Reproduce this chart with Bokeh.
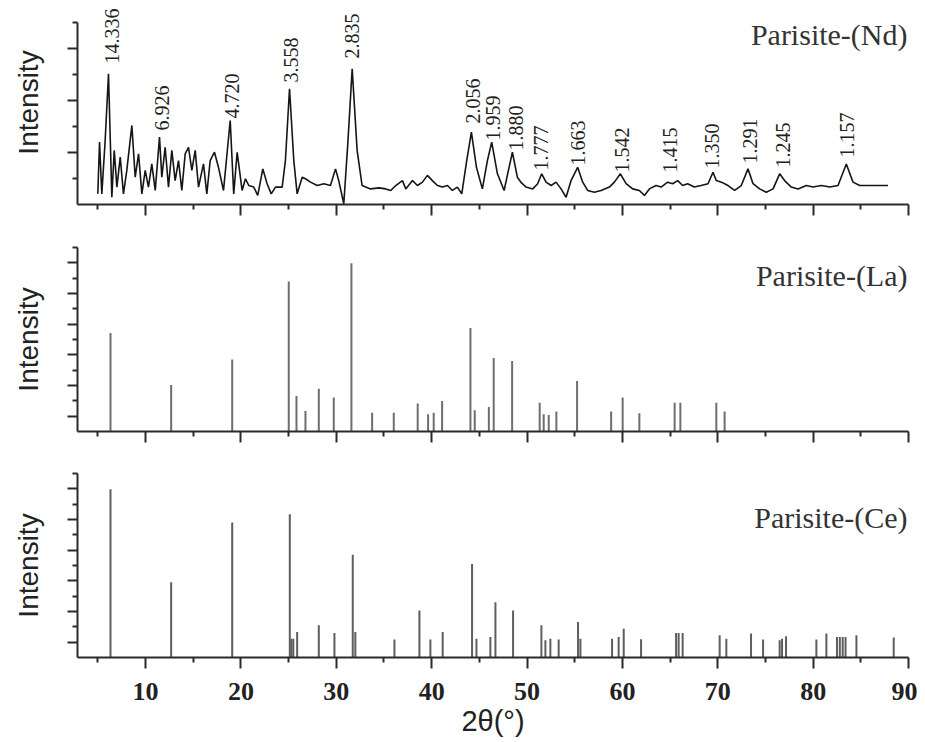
from bokeh.plotting import figure
from bokeh.layouts import column
from bokeh.models import (Range1d, FixedTicker, Label, LabelSet, ColumnDataSource,
                          CustomLabelingPolicy)
from bokeh.embed import file_html
from bokeh.resources import INLINE

# ---------------- data ----------------
nd_two_theta = [5.0, 5.18, 5.42, 5.77, 6.12, 6.47, 6.72, 7.0, 7.35, 7.69, 8.04, 8.57, 8.92, 9.27,
                9.62, 9.97, 10.31, 10.66, 11.02, 11.47, 11.71, 12.06, 12.41, 12.76, 13.11, 13.46,
                13.81, 14.16, 14.51, 14.86, 15.21, 15.56, 16.08, 16.43, 16.78, 17.23, 17.65, 18.18,
                18.88, 19.25, 19.61, 20.13, 20.48, 20.83, 21.35, 21.77, 22.3, 22.75, 23.18, 23.63,
                24.33, 24.67, 25.1, 25.55, 25.9, 26.43, 26.77, 27.3, 28.0, 28.7, 29.39, 29.92,
                30.26, 30.79, 31.21, 31.67, 32.19, 32.71, 33.59, 34.5, 35.19, 35.71, 36.24, 36.94,
                37.29, 37.99, 38.51, 39.04, 39.56, 40.08, 40.61, 41.13, 41.66, 42.18, 42.7, 43.16,
                43.68, 44.17, 44.7, 45.32, 45.85, 46.3, 46.9, 47.6, 48.12, 48.47, 48.99, 49.4,
                49.9, 50.6, 51.12, 51.54, 52.0, 52.53, 53.05, 53.57, 54.1, 54.62, 55.31, 55.84,
                56.36, 57.06, 57.77, 58.64, 59.16, 59.79, 60.39, 61.08, 61.78, 62.31, 62.83, 63.53,
                64.06, 64.75, 65.27, 65.8, 66.32, 66.84, 67.55, 68.25, 68.98, 69.5, 69.85, 70.38,
                71.08, 71.77, 72.47, 73.17, 73.7, 74.39, 75.09, 75.8, 76.49, 77.01, 77.71, 78.42,
                79.29, 79.99, 80.86, 81.73, 82.61, 83.48, 84.18, 84.88, 85.93, 86.97, 87.85]
nd_intensity = [410, 2400, 410, 2460, 5030, 280, 2080, 670, 1820, 410, 1310, 3040, 1050, 1950,
                410, 1310, 670, 1560, 540, 2590, 1050, 2200, 670, 2080, 920, 1690,
                540, 1950, 2200, 1310, 2080, 670, 1560, 410, 1690, 2010, 1430, 540,
                3230, 410, 2010, 540, 990, 730, 670, 350, 1370, 800, 410, 670,
                670, 1690, 4450, 1690, 410, 1050, 990, 860, 730, 800, 730, 1370,
                920, 30, 2330, 5220, 2080, 730, 600, 640, 600, 540, 730, 920,
                600, 920, 730, 860, 1120, 920, 730, 670, 730, 540, 670, 410,
                1690, 2780, 1430, 600, 1690, 2400, 1180, 540, 1430, 2010, 1050, 840,
                670, 600, 800, 1180, 860, 730, 860, 600, 280, 920, 1430, 860,
                540, 470, 540, 670, 860, 1180, 800, 600, 540, 350, 600, 730,
                670, 860, 800, 920, 730, 800, 670, 730, 800, 1240, 920, 860,
                730, 540, 730, 1370, 800, 600, 470, 600, 1180, 920, 670, 600,
                730, 670, 730, 670, 730, 1560, 860, 730, 730, 730, 730]

nd_peak_d = ["14.336", "6.926", "4.720", "3.558", "2.835", "2.056", "1.959", "1.880",
             "1.777", "1.663", "1.542", "1.415", "1.350", "1.291", "1.245", "1.157"]
nd_peak_two_theta = [6.54, 11.78, 19.12, 25.3, 31.7, 44.38, 46.48, 48.89,
                     51.51, 55.39, 60.0, 65.03, 69.43, 73.41, 76.87, 83.59]
nd_peak_label_y = [5420, 2850, 3310, 4690, 5620, 3120, 2460, 2080,
                   1310, 1500, 1230, 1230, 1380, 1580, 1420, 1810]

la_two_theta = [6.33, 12.69, 19.09, 25.02, 25.83, 26.77, 28.17, 29.74, 31.59, 33.76, 36.03,
                38.54, 39.63, 40.22, 41.1, 44.07, 44.52, 46.0, 46.51, 48.44, 51.33, 51.75,
                52.28, 53.08, 55.25, 58.82, 60.03, 61.78, 65.48, 66.08, 69.85, 70.72]
la_intensity = [64.3, 30.3, 47, 97.8, 23.2, 13.4, 27.9, 22.1, 109.7, 12.3, 12.3,
                18.2, 11.3, 12.3, 19.9, 67.5, 13.9, 16, 48, 45.9, 18.8, 11.3,
                10.8, 13, 32.9, 13, 22.1, 11.9, 18.8, 18.8, 18.8, 13]

ce_two_theta = [6.33, 12.69, 19.09, 25.13, 25.3, 25.5, 25.9, 28.17, 29.81, 31.73, 32.0, 36.1,
                38.72, 39.87, 41.16, 44.24, 44.7, 46.16, 46.69, 48.54, 51.51, 51.93, 52.45,
                53.32, 55.35, 55.6, 58.92, 59.61, 60.14, 61.96, 65.63, 65.9, 66.32, 70.2,
                70.9, 73.49, 74.75, 76.49, 76.74, 77.16, 80.34, 81.39, 82.5, 82.8, 83.1,
                83.4, 84.54, 88.45]
ce_intensity = [109.7, 49.1, 88, 93.5, 12.3, 12.3, 16.6, 21, 16, 67, 16.6, 11.7,
                30.7, 11.7, 16.6, 61, 12.3, 13.4, 36.1, 30.7, 21, 11.2, 12.3,
                11.7, 23.1, 12.3, 12.3, 13.4, 18.8, 11.9, 16, 16, 16, 14.5,
                12.3, 15.6, 11.7, 11.2, 12.3, 13.8, 11.7, 15.6, 13.4, 13.4, 13.4,
                13.4, 14.5, 13]

x_major_ticks = [10, 20, 30, 40, 50, 60, 70, 80, 90]
x_minor_ticks = [5, 15, 25, 35, 45, 55, 65, 75, 85]
panel_names = ["Parisite-(Nd)", "Parisite-(La)", "Parisite-(Ce)"]

# ---------------- styling helpers ----------------
AX = "#2a2a2a"
X_START, X_END = 2.87, 90.0


def no_labels():
    return CustomLabelingPolicy(code="return []")


def style(p, y_major, y_minor, show_x_labels):
    p.xgrid.visible = False
    p.ygrid.visible = False
    p.outline_line_color = None
    p.background_fill_color = "white"
    p.border_fill_color = "white"
    xa = p.xaxis[0]
    xa.ticker = FixedTicker(ticks=x_major_ticks, minor_ticks=x_minor_ticks)
    xa.axis_line_color = AX
    xa.axis_line_width = 2
    xa.major_tick_line_color = AX
    xa.major_tick_line_width = 2
    xa.minor_tick_line_color = AX
    xa.minor_tick_line_width = 2
    xa.major_tick_in = 0
    xa.major_tick_out = 11
    xa.minor_tick_in = 0
    xa.minor_tick_out = 5
    if show_x_labels:
        xa.major_label_text_font = "Liberation Serif"
        xa.major_label_text_font_style = "bold"
        xa.major_label_text_font_size = "26px"
        xa.major_label_text_color = "#222222"
        xa.major_label_standoff = 14
        xa.axis_label = "2θ(°)"
        xa.axis_label_text_font = "Liberation Sans"
        xa.axis_label_text_font_style = "normal"
        xa.axis_label_text_font_size = "29px"
        xa.axis_label_text_color = "#222222"
        xa.axis_label_standoff = 2
    else:
        xa.major_label_text_font_size = "0px"
        xa.major_label_standoff = 0
        xa.major_label_policy = no_labels()
    ya = p.yaxis[0]
    ya.ticker = FixedTicker(ticks=y_major, minor_ticks=y_minor)
    ya.axis_line_color = AX
    ya.axis_line_width = 2
    ya.major_tick_line_color = AX
    ya.major_tick_line_width = 2
    ya.minor_tick_line_color = AX
    ya.minor_tick_line_width = 2
    ya.major_tick_in = 0
    ya.major_tick_out = 10
    ya.minor_tick_in = 0
    ya.minor_tick_out = 5
    ya.major_label_text_font_size = "0px"
    ya.major_label_standoff = 0
    ya.major_label_policy = no_labels()
    ya.axis_label = "Intensity"
    ya.axis_label_text_font = "Liberation Sans"
    ya.axis_label_text_font_style = "normal"
    ya.axis_label_text_font_size = "28px"
    ya.axis_label_text_color = "#222222"
    ya.axis_label_standoff = 24


W = 917
LB, RB = 77, 9

# ---------------- top panel: Parisite-(Nd) pattern ----------------
p1 = figure(width=W, height=225, output_backend="svg", toolbar_location=None, title=None,
            x_range=Range1d(X_START, X_END), y_range=Range1d(0, 7846),
            min_border_left=LB, min_border_right=RB, min_border_top=0, min_border_bottom=21)
style(p1, [2000, 4000, 6000], [1000, 3000, 5000, 7000], False)
p1.yaxis[0].bounds = (0, 7000)
p1.line(nd_two_theta, nd_intensity, line_color="#151515", line_width=1.6)
peak_src = ColumnDataSource(dict(x=nd_peak_two_theta, y=nd_peak_label_y, text=nd_peak_d))
p1.add_layout(LabelSet(x="x", y="y", text="text", source=peak_src, angle=90, angle_units="deg",
                       text_align="left", text_baseline="middle", text_font="Liberation Serif",
                       text_font_size="20px", text_color="#222222"))
p1.add_layout(Label(x=X_END, y=6540, text=panel_names[0], text_align="right", text_baseline="middle",
                    x_offset=-1, text_font="Liberation Serif", text_font_size="30px",
                    text_color="#333333"))

# ---------------- middle panel: Parisite-(La) sticks ----------------
p2 = figure(width=W, height=225, output_backend="svg", toolbar_location=None, title=None,
            x_range=Range1d(X_START, X_END), y_range=Range1d(0, 120),
            min_border_left=LB, min_border_right=RB, min_border_top=22, min_border_bottom=19)
style(p2, [10, 30, 50, 70, 90, 110], [20, 40, 60, 80, 100, 120], False)
p2.segment(x0=la_two_theta, y0=[0] * len(la_two_theta), x1=la_two_theta, y1=la_intensity,
           line_color="#6e6e6e", line_width=2)
p2.add_layout(Label(x=X_END, y=102, text=panel_names[1], text_align="right", text_baseline="middle",
                    x_offset=-1, text_font="Liberation Serif", text_font_size="30px",
                    text_color="#333333"))

# ---------------- bottom panel: Parisite-(Ce) sticks ----------------
p3 = figure(width=W, height=292, output_backend="svg", toolbar_location=None, title=None,
            x_range=Range1d(X_START, X_END), y_range=Range1d(0, 120),
            min_border_left=LB, min_border_right=RB, min_border_top=23, min_border_bottom=85)
style(p3, [10, 30, 50, 70, 90, 110], [20, 40, 60, 80, 100, 120], True)
p3.segment(x0=ce_two_theta, y0=[0] * len(ce_two_theta), x1=ce_two_theta, y1=ce_intensity,
           line_color="#5e5e5e", line_width=2)
p3.add_layout(Label(x=X_END, y=91, text=panel_names[2], text_align="right", text_baseline="middle",
                    x_offset=-1, text_font="Liberation Serif", text_font_size="30px",
                    text_color="#333333"))

layout = column(p1, p2, p3, spacing=0)
open("out.html", "w").write(file_html(layout, INLINE))
